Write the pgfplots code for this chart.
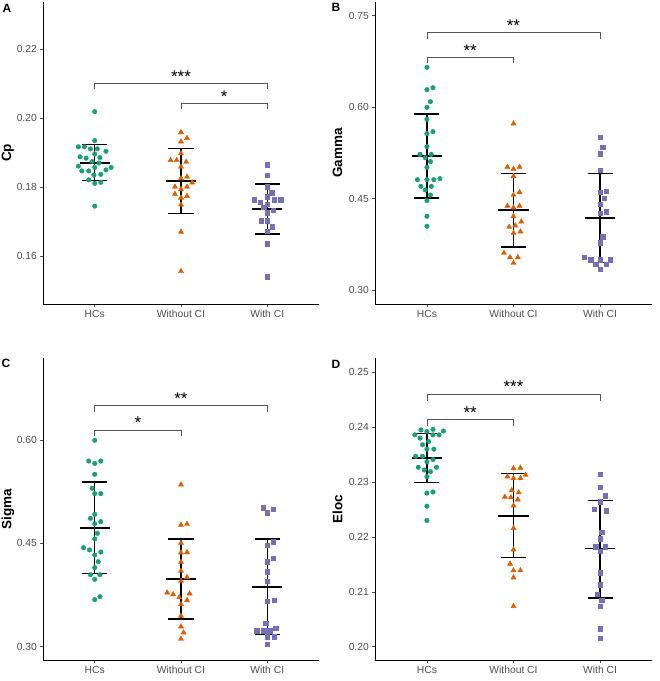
\documentclass[border=0pt]{standalone}
\usepackage{pgfplots}
\pgfplotsset{compat=1.18}
\usepackage{fontspec}
\setmainfont{Liberation Sans}
\definecolor{cg}{HTML}{1B9E77}
\definecolor{co}{HTML}{D95F02}
\definecolor{cp}{HTML}{7570B3}
\definecolor{tl}{HTML}{4D4D4D}
\definecolor{br}{HTML}{555555}
\pgfplotsset{
 panel/.style={
  scale only axis, height=302pt,
  xmin=0.4, xmax=3.6,
  axis x line*=bottom, axis y line*=left,
  axis line style={black, line width=0.9pt, -},
  every non boxed x axis/.append style={x axis line style=-},
  every non boxed y axis/.append style={y axis line style=-},
  xtick={1,2,3}, xticklabels={HCs,Without CI,With CI},
  tick align=outside, major tick length=3pt,
  tick style={color=tl, line width=0.8pt},
  every tick label/.append style={font=\fontsize{10.3}{12}\selectfont, text=tl, inner sep=0pt},
  xticklabel style={yshift=-3pt},
  yticklabel style={xshift=-3pt},
  /pgf/number format/assume math mode=true,
  clip=false,
 },
 pg/.style={only marks, mark=*, mark size=2.3pt, color=cg, mark options={draw=none}},
 po/.style={only marks, mark=triangle*, mark size=3.0pt, color=co, mark options={draw=none}},
 pp/.style={only marks, mark=square*, mark size=2.2pt, color=cp, mark options={draw=none}},
 ebv/.style={black, line width=1.2pt, unbounded coords=jump},
 ebm/.style={black, line width=1.8pt},
 brk/.style={br, line width=0.7pt},
}
\newcommand{\stars}[3]{\node[font=\fontsize{17}{17}\selectfont, anchor=base, inner sep=0pt, yshift=1.3pt] at (axis cs:#1,#2) {#3};}
\begin{document}
\begin{tikzpicture}
\useasboundingbox (0,0) rectangle (660pt,681pt);
% ---------------- A ----------------
\begin{axis}[panel, at={(43pt,377pt)}, anchor=south west, width=276pt,
  ymin=0.1461, ymax=0.2337, ytick={0.16,0.18,0.20,0.22}, yticklabels={0.16,0.18,0.20,0.22}]
\addplot[pg] coordinates {(1,0.2019) (1,0.1935) (0.81,0.1917) (0.88,0.1917) (0.95,0.1911) (1.03,0.1911) (1.13,0.1904) (1,0.1896) (0.83,0.1888) (0.90,0.1884) (1.06,0.1886) (0.97,0.1874) (1.05,0.1870) (0.81,0.1861) (1,0.1857) (1.19,0.1857) (1.13,0.1850) (0.85,0.1847) (0.93,0.1847) (1.07,0.1837) (0.99,0.1835) (0.93,0.1821) (1,0.1811) (1.07,0.1814) (1,0.1745)};
\addplot[po] coordinates {(2,0.1959) (2.07,0.1942) (2,0.1932) (2,0.1898) (1.88,0.1878) (1.95,0.1878) (2.06,0.1873) (2,0.1859) (2.07,0.1830) (2,0.1825) (2.13,0.1813) (1.93,0.1801) (2.07,0.1801) (2,0.1794) (1.93,0.1780) (2.07,0.1774) (2,0.1769) (2,0.1749) (2,0.1670) (2,0.1556)};
\addplot[pp] coordinates {(3,0.1865) (3,0.1834) (3,0.1801) (3.05,0.1784) (3,0.1772) (2.85,0.1764) (2.92,0.1757) (3.08,0.1763) (3.155,0.1763) (3,0.1750) (2.96,0.1741) (3.07,0.1733) (3,0.1726) (2.93,0.1703) (3,0.1703) (3.06,0.1685) (3,0.1673) (3,0.1636) (3,0.1540)};
\addplot[ebv] coordinates {(1,0.1819) (1,0.1923) (nan,nan) (0.855,0.1923) (1.145,0.1923) (nan,nan) (0.855,0.1819) (1.145,0.1819)};
\addplot[ebm] coordinates {(0.825,0.1871) (1.175,0.1871)};
\addplot[ebv] coordinates {(2,0.1723) (2,0.1911) (nan,nan) (1.855,0.1911) (2.145,0.1911) (nan,nan) (1.855,0.1723) (2.145,0.1723)};
\addplot[ebm] coordinates {(1.825,0.1818) (2.175,0.1818)};
\addplot[ebv] coordinates {(3,0.1664) (3,0.1809) (nan,nan) (2.855,0.1809) (3.145,0.1809) (nan,nan) (2.855,0.1664) (3.145,0.1664)};
\addplot[ebm] coordinates {(2.825,0.1736) (3.175,0.1736)};
\addplot[brk] coordinates {(1,0.2084) (1,0.2101) (3,0.2101) (3,0.2084)};
\addplot[brk] coordinates {(2,0.2027) (2,0.2043) (3,0.2043) (3,0.2027)};
\stars{2}{0.2101}{***}
\stars{2.5}{0.2043}{*}
\end{axis}
% ---------------- B ----------------
\begin{axis}[panel, at={(375pt,377pt)}, anchor=south west, width=277pt,
  ymin=0.2769, ymax=0.7725, ytick={0.30,0.45,0.60,0.75}, yticklabels={0.30,0.45,0.60,0.75}]
\addplot[pg] coordinates {(1,0.6653) (1,0.6286) (1.07,0.6319) (1.04,0.6089) (1,0.5996) (1,0.5800) (1,0.5564) (1.07,0.5597) (1,0.5351) (0.92,0.5225) (1.05,0.5225) (0.98,0.5170) (1.04,0.5105) (1,0.5012) (0.89,0.4809) (1,0.4809) (1.08,0.4809) (1.15,0.4826) (0.93,0.4700) (1.05,0.4700) (0.98,0.4640) (1.04,0.4558) (1,0.4465) (1,0.4208) (1,0.4044)};
\addplot[po] coordinates {(2,0.5728) (1.93,0.5017) (2.07,0.5017) (2,0.4984) (2,0.4864) (2.07,0.4602) (2,0.4558) (1.93,0.4377) (2.07,0.4377) (2,0.4350) (2,0.4208) (2.09,0.4120) (1.95,0.4033) (2.02,0.4055) (2.08,0.3956) (2,0.3934) (1.89,0.3606) (1.96,0.3535) (2.05,0.3535) (2,0.3442)};
\addplot[pp] coordinates {(3,0.5510) (3.03,0.5345) (3,0.5236) (3,0.4963) (3.07,0.4623) (3,0.4607) (3.05,0.4503) (3,0.4405) (3.07,0.4284) (3,0.4262) (3.03,0.3874) (3,0.3776) (2.82,0.3540) (2.89,0.3496) (3,0.3496) (3.12,0.3496) (2.95,0.3420) (3.07,0.3420) (3,0.3343)};
\addplot[ebv] coordinates {(1,0.4508) (1,0.5887) (nan,nan) (0.855,0.5887) (1.145,0.5887) (nan,nan) (0.855,0.4508) (1.145,0.4508)};
\addplot[ebm] coordinates {(0.825,0.5203) (1.175,0.5203)};
\addplot[ebv] coordinates {(2,0.3704) (2,0.4908) (nan,nan) (1.855,0.4908) (2.145,0.4908) (nan,nan) (1.855,0.3704) (2.145,0.3704)};
\addplot[ebm] coordinates {(1.825,0.4311) (2.175,0.4311)};
\addplot[ebv] coordinates {(3,0.3453) (3,0.4908) (nan,nan) (2.855,0.4908) (3.145,0.4908) (nan,nan) (2.855,0.3453) (3.145,0.3453)};
\addplot[ebm] coordinates {(2.825,0.4180) (3.175,0.4180)};
\addplot[brk] coordinates {(1,0.7118) (1,0.7221) (3,0.7221) (3,0.7118)};
\addplot[brk] coordinates {(1,0.6718) (1,0.6817) (2,0.6817) (2,0.6718)};
\stars{2}{0.7221}{**}
\stars{1.5}{0.6817}{**}
\end{axis}
% ---------------- C ----------------
\begin{axis}[panel, at={(43pt,21pt)}, anchor=south west, width=276pt,
  ymin=0.2807, ymax=0.7190, ytick={0.30,0.45,0.60}, yticklabels={0.30,0.45,0.60}]
\addplot[pg] coordinates {(1,0.5995) (0.93,0.5695) (1.07,0.5695) (1,0.5661) (1,0.5502) (0.97,0.5299) (1,0.5221) (1.07,0.5221) (1,0.4921) (0.95,0.4863) (1.07,0.4815) (1,0.4786) (1.03,0.4645) (1,0.4563) (0.87,0.4437) (0.94,0.4404) (1.07,0.4374) (1,0.4331) (1.04,0.4234) (1,0.4147) (0.95,0.4045) (1.06,0.4045) (1,0.3978) (1.06,0.3726) (1,0.3683)};
\addplot[po] coordinates {(2,0.5352) (2,0.4766) (2.07,0.4781) (2,0.4505) (2,0.4365) (2.07,0.4370) (2,0.4229) (2,0.4099) (2.07,0.4007) (2,0.3954) (1.84,0.3784) (1.91,0.3760) (2.10,0.3770) (1.98,0.3716) (2.07,0.3673) (2,0.3615) (2,0.3446) (2,0.3291) (2.03,0.3204) (2,0.3112)};
\addplot[pp] coordinates {(2.95,0.5018) (3.07,0.4999) (3,0.4945) (3.07,0.4525) (3,0.4476) (3.07,0.4283) (3,0.4234) (3,0.4089) (3,0.3949) (3.08,0.3678) (3,0.3663) (2.98,0.3339) (3.10,0.3267) (2.88,0.3233) (2.96,0.3233) (3.03,0.3233) (3,0.3146) (3.08,0.3146) (3,0.3034)};
\addplot[ebv] coordinates {(1,0.4065) (1,0.5390) (nan,nan) (0.855,0.5390) (1.145,0.5390) (nan,nan) (0.855,0.4065) (1.145,0.4065)};
\addplot[ebm] coordinates {(0.825,0.4728) (1.175,0.4728)};
\addplot[ebv] coordinates {(2,0.3402) (2,0.4563) (nan,nan) (1.855,0.4563) (2.145,0.4563) (nan,nan) (1.855,0.3402) (2.145,0.3402)};
\addplot[ebm] coordinates {(1.825,0.3983) (2.175,0.3983)};
\addplot[ebv] coordinates {(3,0.3180) (3,0.4563) (nan,nan) (2.855,0.4563) (3.145,0.4563) (nan,nan) (2.855,0.3180) (3.145,0.3180)};
\addplot[ebm] coordinates {(2.825,0.3871) (3.175,0.3871)};
\addplot[brk] coordinates {(1,0.6411) (1,0.6498) (3,0.6498) (3,0.6411)};
\addplot[brk] coordinates {(1,0.6058) (1,0.6145) (2,0.6145) (2,0.6058)};
\stars{2}{0.6498}{**}
\stars{1.5}{0.6145}{*}
\end{axis}
% ---------------- D ----------------
\begin{axis}[panel, at={(375pt,21pt)}, anchor=south west, width=277pt,
  ymin=0.1976, ymax=0.2526, ytick={0.20,0.21,0.22,0.23,0.24,0.25}, yticklabels={0.20,0.21,0.22,0.23,0.24,0.25}]
\addplot[pg] coordinates {(1.07,0.2396) (0.93,0.2395) (1.19,0.2393) (1,0.2392) (0.86,0.2386) (1.07,0.2386) (1.14,0.2386) (0.92,0.2380) (1.02,0.2374) (0.95,0.2368) (1,0.2360) (1.08,0.2360) (0.87,0.2347) (0.95,0.2347) (1.07,0.2341) (1,0.2337) (0.90,0.2327) (1.11,0.2327) (0.97,0.2322) (1.04,0.2319) (1,0.2310) (1,0.2280) (1.07,0.2282) (1,0.2256) (1,0.2230)};
\addplot[po] coordinates {(2,0.2325) (2.08,0.2326) (1.93,0.2310) (2,0.2307) (2.08,0.2307) (2.14,0.2313) (1.98,0.2285) (2.06,0.2281) (1.90,0.2273) (1.97,0.2272) (2.05,0.2268) (2,0.2257) (2,0.2216) (2,0.2177) (1.96,0.2151) (2,0.2139) (2.08,0.2139) (2,0.2126) (2,0.2074)};
\addplot[pp] coordinates {(3,0.2314) (3,0.2291) (3.06,0.2275) (3,0.2264) (2.93,0.2251) (3.07,0.2248) (3.02,0.2209) (3,0.2197) (2.95,0.2182) (3.06,0.2182) (3,0.2174) (3,0.2135) (3,0.2113) (2.97,0.2096) (3.02,0.2085) (3,0.2074) (3,0.2033) (3,0.2016)};
\addplot[ebv] coordinates {(1,0.2299) (1,0.2389) (nan,nan) (0.855,0.2389) (1.145,0.2389) (nan,nan) (0.855,0.2299) (1.145,0.2299)};
\addplot[ebm] coordinates {(0.825,0.2344) (1.175,0.2344)};
\addplot[ebv] coordinates {(2,0.2162) (2,0.2316) (nan,nan) (1.855,0.2316) (2.145,0.2316) (nan,nan) (1.855,0.2162) (2.145,0.2162)};
\addplot[ebm] coordinates {(1.825,0.2238) (2.175,0.2238)};
\addplot[ebv] coordinates {(3,0.2089) (3,0.2267) (nan,nan) (2.855,0.2267) (3.145,0.2267) (nan,nan) (2.855,0.2089) (3.145,0.2089)};
\addplot[ebm] coordinates {(2.825,0.2179) (3.175,0.2179)};
\addplot[brk] coordinates {(1,0.2448) (1,0.2460) (3,0.2460) (3,0.2448)};
\addplot[brk] coordinates {(1,0.2403) (1,0.2414) (2,0.2414) (2,0.2403)};
\stars{2}{0.2460}{***}
\stars{1.5}{0.2414}{**}
\end{axis}
% ---------------- labels ----------------
\tikzset{pl/.style={font=\fontsize{12}{12}\selectfont\bfseries, inner sep=0pt, anchor=north west},
         yl/.style={font=\fontsize{13.5}{14}\selectfont\bfseries, inner sep=0pt, rotate=90, anchor=north}}
\node[pl] at (2.5pt,677pt) {A};
\node[pl] at (331.5pt,677.5pt) {B};
\node[pl] at (1.5pt,322pt) {C};
\node[pl] at (331.5pt,321pt) {D};
\node[yl] at (1.5pt,528pt) {Cp};
\node[yl] at (332.5pt,528pt) {Gamma};
\node[yl] at (1.5pt,172pt) {Sigma};
\node[yl] at (332.5pt,172pt) {Eloc};
\end{tikzpicture}
\end{document}
